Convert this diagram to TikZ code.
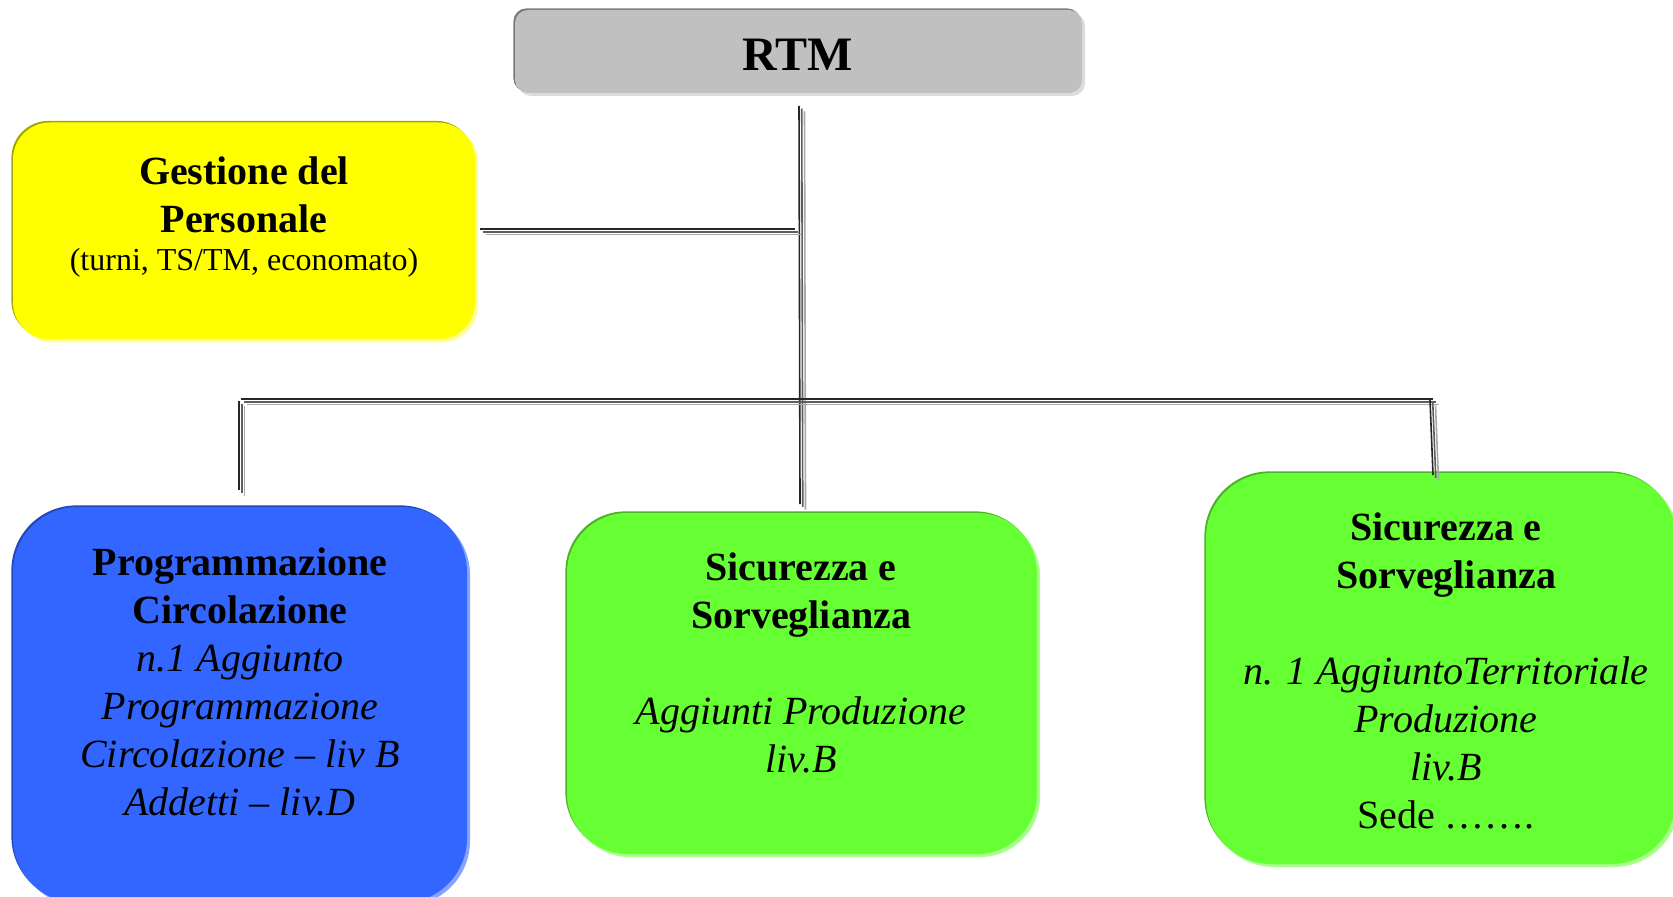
\documentclass[tikz,border=0pt]{standalone}
\usepackage{fontspec}
\setmainfont{Liberation Serif}

% fills and edge tints of the cards
\definecolor{rtmFill}{HTML}{C0C0C0}
\definecolor{rtmDark}{HTML}{7A7A7A}
\definecolor{rtmLight}{HTML}{DCDCDC}
\definecolor{ylwFill}{HTML}{FFFF00}
\definecolor{ylwDark}{HTML}{A6A600}
\definecolor{ylwLight}{HTML}{FFFF99}
\definecolor{bluFill}{HTML}{3366FF}
\definecolor{bluDark}{HTML}{2547B8}
\definecolor{bluLight}{HTML}{85A3FF}
\definecolor{grnFill}{HTML}{66FF33}
\definecolor{grnDark}{HTML}{4DB326}
\definecolor{grnLight}{HTML}{A8FF8C}
% connector strokes
\definecolor{wireDark}{HTML}{262626}
\definecolor{wireMid}{HTML}{5E5E5E}
\definecolor{wireLight}{HTML}{A8A8A8}

\tikzset{
  card/.style n args={3}{rectangle, inner sep=0pt, draw=none, fill=#1,
    preaction={fill=#3, transform canvas={shift={(3,3)}}},
    preaction={fill=#2, transform canvas={shift={(-1.6,-1.6)}}}},
  wire/.style={line width=0.8pt, draw=wireDark,
    preaction={draw=wireLight, line width=0.8pt, transform canvas={shift={(5.5,5.5)}}},
    preaction={draw=wireMid, line width=0.8pt, transform canvas={shift={(2.75,2.75)}}}},
  cardtext/.style={anchor=north, inner sep=0pt, align=center,
    font=\fontsize{20}{24}\selectfont},
}

\begin{document}
\begin{tikzpicture}[x=0.5pt, y=-0.5pt]
  \useasboundingbox (0,0) rectangle (1673,897);
  \clip (0,0) rectangle (1673,897);

  % cards
  \node[card={rtmFill}{rtmDark}{rtmLight}, rounded corners=6.5pt,
        minimum width=283.5pt, minimum height=41.5pt] (rtm) at (798.5,51.5) {};
  \node[card={ylwFill}{ylwDark}{ylwLight}, rounded corners=18.5pt,
        minimum width=231pt, minimum height=108.5pt] (pers) at (244,231) {};
  \node[card={bluFill}{bluDark}{bluLight}, rounded corners=32.5pt,
        minimum width=227pt, minimum height=198pt] (prog) at (240,705) {};
  \node[card={grnFill}{grnDark}{grnLight}, rounded corners=30pt,
        minimum width=235pt, minimum height=170.5pt] (sic) at (802,683.5) {};
  \node[card={grnFill}{grnDark}{grnLight}, rounded corners=32.5pt,
        minimum width=235pt, minimum height=195.5pt] (sicT) at (1441,668.5) {};

  % card texts
  \node[anchor=north, inner sep=0pt, font=\fontsize{24}{28}\selectfont\bfseries]
    (rtmtxt) at (798,39) {RTM};
  \node[cardtext] (perstxt) at (244,156)
    {\textbf{Gestione del}\\ \textbf{Personale}\\[-4.8pt]
     {\fontsize{16}{19.2}\selectfont (turni, TS/TM, economato)}};
  \node[cardtext] (progtxt) at (240,547)
    {\textbf{Programmazione}\\ \textbf{Circolazione}\\
     \textit{n.1 Aggiunto}\\ \textit{Programmazione}\\
     \textit{Circolazione – liv B}\\ \textit{Addetti – liv.D}};
  \node[cardtext] (sictxt) at (801,552)
    {\textbf{Sicurezza e}\\ \textbf{Sorveglianza}\\[24pt]
     \textit{Aggiunti Produzione}\\ \textit{liv.B}};
  \node[cardtext] (sicTtxt) at (1446,512)
    {\textbf{Sicurezza e}\\ \textbf{Sorveglianza}\\[24pt]
     \textit{n. 1 AggiuntoTerritoriale}\\ \textit{Produzione}\\
     \textit{liv.B}\\ Sede …….};

  % connector end points
  \coordinate (trunkTop) at (799,106);
  \coordinate (trunkBot) at (800,504);
  \coordinate (sideJoin) at (795,229);
  \coordinate (sideEnd)  at (480,229);
  \coordinate (busL)     at (241,399);
  \coordinate (busR)     at (1433,399);
  \coordinate (dropLTop) at (239,401);
  \coordinate (dropLBot) at (239,490);
  \coordinate (dropRTop) at (1430,400);
  \coordinate (dropRBot) at (1433,475);

  % connectors
  \draw[wire] (trunkTop) -- (trunkBot);
  \draw[wire] (sideJoin) -- (sideEnd);
  \draw[wire] (busL) -- (busR);
  \draw[wire] (dropLTop) -- (dropLBot);
  \draw[wire] (dropRTop) -- (dropRBot);
\end{tikzpicture}
\end{document}
